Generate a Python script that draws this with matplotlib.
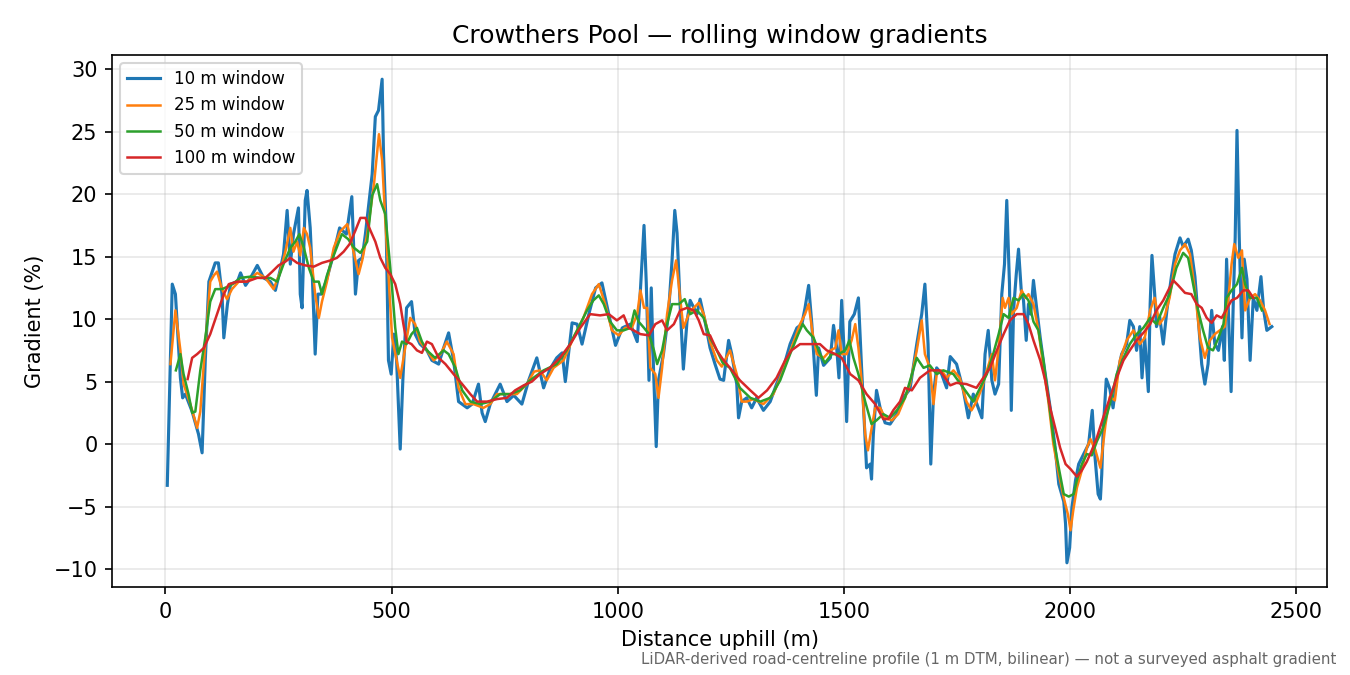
import matplotlib
matplotlib.use("Agg")
import matplotlib.pyplot as plt

# ---- data (distance m, gradient %) ----
w10_x = [4, 15, 22, 33, 38, 44, 59, 73, 81, 88, 96, 110, 117, 125, 129, 137, 144, 159, 166, 177,
         188, 203, 217, 232, 243, 254, 261, 269, 276, 283, 294, 298, 302, 309, 313, 320, 324, 331, 337, 344,
         355, 370, 385, 400, 412, 420, 427, 435, 442, 457, 464, 471, 479, 482, 488, 493, 499, 505, 511, 519,
         525, 533, 544, 552, 563, 578, 589, 604, 615, 626, 637, 648, 667, 678, 692, 700, 707, 718, 740, 755,
         770, 788, 803, 821, 836, 850, 865, 877, 884, 899, 910, 921, 936, 951, 965, 980, 995, 1010, 1028, 1043,
         1050, 1058, 1063, 1069, 1074, 1079, 1085, 1090, 1101, 1112, 1120, 1126, 1131, 1138, 1145, 1153, 1160, 1175, 1182, 1193,
         1204, 1215, 1226, 1234, 1245, 1252, 1263, 1267, 1274, 1285, 1296, 1307, 1322, 1337, 1351, 1366, 1381, 1396, 1407, 1414,
         1422, 1429, 1439, 1444, 1455, 1470, 1477, 1484, 1489, 1495, 1500, 1506, 1513, 1523, 1532, 1539, 1550, 1558, 1561, 1565,
         1572, 1580, 1591, 1602, 1617, 1631, 1646, 1661, 1672, 1679, 1686, 1692, 1698, 1705, 1716, 1727, 1735, 1749, 1764, 1775,
         1786, 1797, 1805, 1812, 1819, 1827, 1834, 1842, 1849, 1855, 1860, 1866, 1870, 1875, 1881, 1886, 1892, 1897, 1903, 1908,
         1913, 1919, 1925, 1934, 1945, 1956, 1967, 1975, 1986, 1990, 1993, 1999, 2004, 2012, 2019, 2030, 2041, 2049, 2055, 2062,
         2067, 2070, 2073, 2080, 2088, 2095, 2103, 2114, 2125, 2132, 2140, 2147, 2154, 2159, 2165, 2173, 2177, 2181, 2187, 2191,
         2198, 2206, 2214, 2224, 2232, 2243, 2250, 2261, 2268, 2276, 2283, 2291, 2298, 2305, 2313, 2320, 2328, 2337, 2341, 2346,
         2352, 2356, 2361, 2365, 2369, 2374, 2380, 2385, 2391, 2398, 2405, 2413, 2422, 2428, 2435, 2446]
w10_y = [-3.3, 12.8, 12.0, 5.3, 3.7, 4.0, 2.6, 0.8, -0.7, 6.7, 13.0, 14.5, 14.5, 12.0, 8.5, 11.2, 12.8, 13.0, 13.7, 12.7,
         13.3, 14.3, 13.3, 13.0, 12.3, 14.0, 15.2, 18.7, 14.4, 16.8, 18.9, 12.0, 10.9, 19.5, 20.3, 17.3, 14.1, 7.2, 12.0, 12.0,
         13.0, 15.0, 17.3, 16.8, 19.8, 12.0, 14.7, 14.9, 16.8, 21.6, 26.2, 26.7, 29.2, 23.3, 17.3, 6.7, 5.6, 8.8, 6.7, -0.4,
         5.3, 10.9, 11.4, 8.8, 8.0, 7.5, 6.7, 6.4, 7.7, 8.9, 6.7, 3.4, 2.9, 3.2, 4.8, 2.5, 1.8, 3.2, 4.8, 3.4,
         3.9, 3.2, 5.1, 6.9, 4.5, 6.0, 6.9, 7.3, 5.0, 9.7, 9.6, 8.0, 10.4, 12.5, 12.9, 10.4, 7.9, 9.3, 9.6, 8.2,
         12.3, 17.5, 12.9, 5.1, 12.5, 6.0, -0.2, 5.1, 7.2, 10.4, 14.7, 18.7, 16.9, 11.0, 6.0, 9.8, 11.5, 10.4, 11.6, 9.8,
         7.7, 6.4, 5.2, 5.1, 8.3, 7.2, 4.8, 2.1, 3.4, 3.7, 2.9, 3.7, 2.7, 3.4, 4.8, 6.1, 8.0, 9.3, 9.6, 10.9,
         12.7, 9.6, 3.9, 7.7, 6.3, 6.9, 9.5, 7.7, 5.3, 11.5, 7.7, 1.8, 9.8, 10.4, 11.7, 6.1, -1.9, -1.6, -2.8, 0.8,
         4.3, 2.9, 1.7, 1.6, 2.4, 3.7, 4.4, 8.0, 10.4, 12.8, 8.0, -1.6, 4.0, 6.1, 5.6, 4.5, 7.0, 6.4, 4.3, 2.1,
         4.0, 2.9, 2.1, 7.2, 9.1, 5.1, 4.0, 4.8, 12.0, 14.4, 19.5, 12.8, 2.7, 10.7, 13.6, 15.6, 12.3, 11.5, 8.3, 11.2,
         10.4, 13.1, 11.2, 8.5, 5.6, 2.9, -0.3, -3.2, -4.6, -6.4, -9.5, -8.3, -5.1, -2.9, -1.6, -0.8, 0.0, 2.7, -1.0, -4.0,
         -4.4, -2.4, 1.0, 5.2, 4.4, 2.9, 5.3, 7.2, 8.0, 9.9, 9.4, 7.5, 9.4, 5.3, 8.5, 4.2, 11.2, 15.1, 12.0, 9.4,
         10.2, 8.0, 10.7, 13.4, 15.2, 16.5, 15.8, 16.4, 15.5, 13.4, 10.2, 6.4, 4.8, 6.4, 10.7, 8.0, 7.5, 9.4, 6.7, 14.8,
         8.3, 4.2, 11.7, 16.5, 25.1, 16.5, 8.5, 14.8, 13.2, 6.7, 11.7, 10.7, 13.4, 10.7, 9.1, 9.4]

w25_x = [11, 22, 33, 40, 55, 70, 77, 88, 99, 107, 114, 125, 136, 147, 162, 180, 203, 221, 239, 254,
         265, 276, 283, 291, 298, 306, 313, 320, 331, 339, 346, 357, 372, 386, 402, 417, 427, 435, 446, 461,
         472, 479, 486, 493, 501, 511, 519, 530, 541, 552, 563, 578, 593, 608, 622, 637, 648, 663, 681, 703,
         718, 733, 755, 777, 799, 815, 828, 843, 858, 880, 902, 924, 943, 958, 972, 987, 1002, 1016, 1031, 1043,
         1050, 1058, 1065, 1072, 1083, 1090, 1098, 1109, 1120, 1129, 1137, 1145, 1157, 1168, 1179, 1190, 1204, 1219, 1230, 1248,
         1263, 1274, 1285, 1300, 1322, 1344, 1366, 1384, 1403, 1414, 1422, 1431, 1440, 1455, 1470, 1481, 1488, 1495, 1506, 1517,
         1525, 1532, 1539, 1547, 1553, 1559, 1569, 1580, 1591, 1606, 1620, 1635, 1646, 1661, 1672, 1679, 1690, 1698, 1705, 1716,
         1727, 1742, 1756, 1771, 1782, 1793, 1805, 1816, 1827, 1834, 1842, 1851, 1856, 1864, 1871, 1882, 1893, 1901, 1908, 1919,
         1930, 1941, 1952, 1963, 1975, 1986, 1995, 2001, 2007, 2015, 2026, 2037, 2045, 2056, 2067, 2078, 2088, 2099, 2110, 2125,
         2140, 2154, 2165, 2177, 2187, 2198, 2209, 2220, 2232, 2243, 2254, 2265, 2276, 2287, 2298, 2309, 2320, 2331, 2342, 2350,
         2357, 2363, 2372, 2380, 2387, 2398, 2409, 2420, 2431, 2441]
w25_y = [6.4, 10.7, 7.5, 4.8, 3.2, 1.3, 2.6, 8.0, 13.0, 13.5, 13.8, 12.4, 11.6, 12.4, 13.0, 13.0, 13.7, 13.3, 12.4, 13.8,
         15.4, 17.3, 15.4, 16.2, 15.1, 17.3, 16.8, 15.7, 12.0, 10.1, 11.4, 13.0, 15.7, 17.0, 17.6, 15.2, 13.6, 14.7, 16.8, 20.8,
         24.8, 22.7, 17.9, 13.6, 8.5, 6.7, 5.3, 7.7, 10.1, 9.6, 8.2, 7.5, 6.7, 7.2, 8.2, 7.2, 4.5, 3.2, 3.2, 2.9,
         3.2, 4.0, 4.0, 4.0, 4.8, 5.8, 5.9, 5.1, 6.1, 6.7, 8.5, 10.1, 12.0, 12.8, 11.2, 9.1, 8.7, 9.3, 9.3, 10.4,
         12.3, 10.9, 10.9, 6.1, 5.6, 3.7, 6.1, 10.4, 13.1, 14.7, 12.0, 9.3, 10.4, 10.9, 11.3, 10.4, 8.2, 6.7, 6.2, 7.5,
         5.6, 3.4, 3.4, 3.6, 3.2, 4.0, 5.9, 7.7, 9.6, 10.4, 11.2, 8.8, 7.2, 6.9, 7.5, 7.7, 9.1, 7.2, 7.2, 8.3,
         9.6, 7.7, 5.1, 0.8, -0.5, 0.8, 2.9, 2.9, 2.1, 1.9, 2.4, 3.7, 4.8, 7.5, 9.9, 7.2, 6.1, 3.2, 5.6, 5.9,
         5.3, 5.9, 5.3, 3.4, 2.7, 3.4, 4.5, 5.9, 7.2, 5.1, 7.7, 11.7, 10.9, 11.7, 10.4, 10.9, 12.3, 11.7, 12.0, 11.2,
         9.1, 6.1, 3.4, 0.0, -2.4, -4.3, -5.6, -6.9, -5.3, -3.5, -2.1, -0.3, 0.4, -0.5, -1.9, 1.5, 3.8, 3.5, 6.7, 8.3,
         9.1, 8.0, 8.5, 10.7, 11.7, 9.6, 10.2, 11.7, 14.4, 15.5, 16.0, 15.2, 12.3, 8.5, 6.9, 8.3, 8.8, 9.1, 9.4, 11.7,
         14.4, 16.0, 14.9, 15.5, 10.7, 11.7, 12.0, 11.5, 10.7, 9.6]

w50_x = [23, 33, 40, 51, 59, 66, 77, 88, 99, 110, 125, 144, 166, 188, 210, 232, 247, 261, 276, 287,
         296, 306, 317, 328, 339, 346, 357, 372, 390, 404, 417, 431, 446, 457, 468, 475, 486, 493, 501, 508,
         515, 523, 533, 544, 556, 567, 578, 596, 615, 626, 641, 656, 674, 696, 718, 740, 762, 784, 806, 836,
         865, 887, 910, 932, 946, 958, 969, 983, 998, 1013, 1028, 1037, 1046, 1058, 1069, 1080, 1087, 1098, 1109, 1120,
         1135, 1148, 1160, 1175, 1190, 1204, 1219, 1232, 1248, 1270, 1293, 1315, 1337, 1359, 1381, 1399, 1409, 1418, 1433, 1447,
         1458, 1473, 1488, 1503, 1512, 1521, 1532, 1547, 1561, 1572, 1587, 1602, 1617, 1635, 1648, 1661, 1676, 1690, 1705, 1720,
         1742, 1764, 1786, 1801, 1816, 1830, 1842, 1853, 1864, 1875, 1886, 1897, 1908, 1919, 1930, 1941, 1952, 1963, 1975, 1986,
         1997, 2008, 2015, 2026, 2037, 2048, 2059, 2073, 2088, 2103, 2118, 2132, 2147, 2162, 2177, 2191, 2206, 2220, 2235, 2250,
         2261, 2272, 2283, 2294, 2305, 2316, 2328, 2339, 2346, 2357, 2369, 2380, 2387, 2398, 2413, 2424]
w50_y = [5.9, 7.2, 5.6, 4.0, 2.5, 2.6, 5.9, 8.5, 11.4, 12.4, 12.4, 12.7, 13.3, 13.4, 13.3, 13.3, 13.0, 14.4, 15.7, 16.2,
         16.8, 15.7, 14.1, 13.0, 13.0, 12.0, 13.5, 15.1, 16.8, 16.4, 15.7, 15.3, 16.2, 19.9, 20.8, 19.5, 18.4, 15.7, 12.5, 9.3,
         7.2, 8.2, 8.0, 8.8, 9.3, 8.2, 7.5, 6.9, 7.5, 7.2, 6.1, 4.3, 3.4, 3.2, 3.4, 4.0, 4.0, 4.3, 5.1, 5.9,
         6.4, 7.5, 9.1, 10.7, 11.5, 11.9, 11.2, 9.8, 9.1, 9.1, 9.3, 10.7, 9.8, 9.3, 8.8, 7.5, 6.4, 7.5, 9.6, 11.2,
         11.2, 11.6, 10.4, 10.7, 10.1, 8.5, 7.5, 6.5, 6.1, 4.5, 3.7, 3.4, 3.7, 5.1, 7.2, 8.8, 9.6, 9.1, 8.5, 7.2,
         6.5, 7.2, 7.2, 7.5, 8.3, 6.9, 5.6, 3.4, 1.6, 1.9, 2.4, 2.1, 2.7, 3.7, 5.3, 6.9, 6.1, 6.3, 5.6, 5.9,
         5.6, 4.5, 3.4, 4.5, 5.6, 7.2, 8.8, 10.4, 10.1, 11.7, 11.5, 12.0, 11.5, 9.8, 9.1, 6.7, 3.7, 0.5, -1.9, -4.0,
         -4.2, -4.0, -2.9, -1.6, -0.8, -0.9, 0.2, 1.3, 3.2, 5.6, 6.9, 8.0, 8.8, 9.3, 10.1, 9.6, 10.9, 12.0, 14.1, 15.3,
         14.9, 12.8, 10.7, 9.1, 7.7, 7.5, 8.5, 9.6, 11.7, 12.3, 12.8, 14.1, 12.8, 11.7, 11.7, 10.7]

w100_x = [49, 59, 70, 85, 99, 114, 129, 140, 159, 180, 203, 221, 236, 250, 265, 276, 291, 309, 328, 346,
          365, 379, 394, 407, 420, 431, 442, 453, 464, 475, 486, 497, 508, 519, 526, 533, 544, 556, 567, 578,
          589, 604, 619, 637, 656, 674, 689, 711, 733, 755, 773, 792, 810, 828, 850, 872, 895, 917, 939, 961,
          980, 998, 1013, 1024, 1035, 1050, 1069, 1083, 1098, 1109, 1124, 1138, 1153, 1168, 1179, 1190, 1204, 1219, 1232, 1248,
          1270, 1293, 1311, 1330, 1351, 1370, 1384, 1403, 1425, 1447, 1462, 1481, 1495, 1514, 1532, 1550, 1569, 1587, 1598, 1609,
          1624, 1635, 1650, 1668, 1690, 1712, 1735, 1749, 1771, 1793, 1808, 1823, 1838, 1853, 1867, 1882, 1897, 1908, 1919, 1934,
          1945, 1956, 1967, 1978, 1990, 2001, 2015, 2026, 2037, 2048, 2059, 2073, 2088, 2103, 2118, 2132, 2147, 2162, 2177, 2191,
          2206, 2217, 2228, 2239, 2254, 2268, 2280, 2291, 2302, 2313, 2324, 2335, 2346, 2357, 2369, 2383, 2394, 2405]
w100_y = [5.2, 6.9, 7.2, 7.7, 8.8, 10.4, 12.0, 12.8, 13.0, 13.0, 13.3, 13.3, 13.8, 14.3, 14.6, 14.9, 14.5, 14.3, 14.2, 14.5,
          14.7, 14.9, 15.4, 16.0, 17.1, 18.1, 18.1, 17.1, 16.2, 14.9, 14.1, 13.6, 12.8, 11.2, 9.6, 8.2, 8.0, 7.5, 7.3, 8.2,
          8.0, 6.9, 6.4, 5.6, 4.8, 4.0, 3.4, 3.4, 3.6, 3.7, 4.3, 4.7, 5.0, 5.6, 6.1, 6.9, 8.0, 9.3, 10.4, 10.3,
          10.4, 9.9, 10.3, 9.3, 9.1, 8.8, 8.7, 9.6, 9.9, 9.1, 9.6, 10.7, 10.9, 10.7, 9.9, 8.8, 8.7, 7.5, 6.8, 6.1,
          5.1, 4.3, 3.7, 4.3, 5.3, 6.7, 7.5, 8.0, 8.0, 8.0, 7.5, 7.2, 6.9, 5.6, 5.1, 4.0, 3.2, 2.0, 2.0, 2.7,
          3.4, 4.5, 4.3, 5.3, 5.9, 5.9, 4.7, 4.9, 4.8, 4.5, 5.3, 6.1, 7.5, 8.8, 9.9, 10.4, 10.4, 9.6, 8.3, 6.7,
          5.1, 2.9, 1.3, -0.3, -1.6, -2.0, -2.6, -2.1, -1.4, -0.5, 0.5, 2.1, 3.7, 5.3, 6.7, 7.5, 8.3, 8.9, 9.6, 10.7,
          11.5, 12.3, 13.1, 12.7, 12.1, 12.0, 11.2, 10.9, 10.1, 9.7, 10.3, 10.1, 10.8, 11.5, 11.7, 12.3, 12.3, 11.7]

labels = ["10 m window", "25 m window", "50 m window", "100 m window"]
title = "Crowthers Pool \u2014 rolling window gradients"
note = "LiDAR-derived road-centreline profile (1 m DTM, bilinear) \u2014 not a surveyed asphalt gradient"

fig = plt.figure(figsize=(9, 4.5), dpi=150)
ax = fig.add_axes([0.083, 0.1304, 0.9, 0.7881])

ax.plot(w10_x, w10_y, color="#1f77b4", lw=1.5, label=labels[0])
ax.plot(w25_x, w25_y, color="#ff7f0e", lw=1.2, label=labels[1])
ax.plot(w50_x, w50_y, color="#2ca02c", lw=1.2, label=labels[2])
ax.plot(w100_x, w100_y, color="#d62728", lw=1.2, label=labels[3])

ax.grid(True, alpha=0.3)
ax.set_title(title, fontsize=12)
ax.set_xlabel("Distance uphill (m)", fontsize=10)
ax.set_ylabel("Gradient (%)", fontsize=10)
ax.legend(loc="upper left", fontsize=8)
fig.text(0.99, 0.012, note, ha="right", va="bottom", fontsize=7.2, color="#666666")

fig.savefig("out.png", dpi=150)
